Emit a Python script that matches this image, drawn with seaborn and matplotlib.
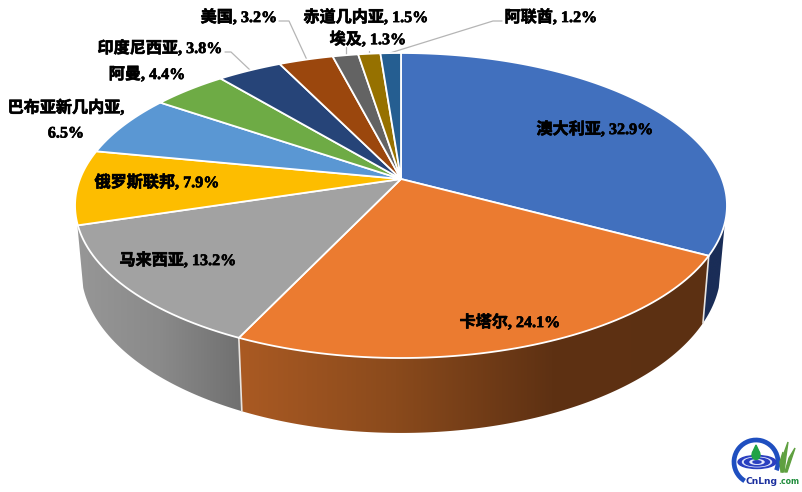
import numpy as np
import matplotlib
matplotlib.use("Agg")
import matplotlib.pyplot as plt
import matplotlib.patheffects as pe
import matplotlib.transforms as mtransforms
from matplotlib.colors import LinearSegmentedColormap
from matplotlib.patches import Polygon, Arc, Ellipse
from matplotlib.path import Path
import seaborn as sns

countries = ["澳大利亚", "卡塔尔", "马来西亚", "俄罗斯联邦", "巴布亚新几内亚", "阿曼",
             "印度尼西亚", "美国", "赤道几内亚", "埃及", "阿联酋"]
shares = [32.9, 24.1, 13.2, 7.9, 6.5, 4.4, 3.8, 3.2, 1.5, 1.3, 1.2]
slice_colors = ["#4170BE", "#EB7B30", "#A2A2A2", "#FDBD00", "#5A97D3", "#6EAB45",
                "#264478", "#9B470D", "#636363", "#967100", "#255E91"]
label_centers = [(595, 130), (510, 323), (178, 261), (157, 183), (66, 121), (147, 75),
                 (160, 49), (239, 18), (366, 18), (368, 40), (551, 18)]
label_breaks = [False, False, False, False, True, False, False, False, False, False, False]
leaders = [([225, 231, 250], [52, 52, 70]),
           ([279, 289, 307], [21, 21, 60]),
           ([346, 346], [47, 55]),
           ([369, 369], [51, 54]),
           ([502, 493, 390], [21, 21, 53])]

sns.set_theme(style="white")
plt.rcParams["font.family"] = ["Liberation Serif", "Noto Sans CJK SC", "DejaVu Sans"]
palette = sns.color_palette(slice_colors)


class Tilt(mtransforms.Transform):
    """Perspective view of the unit-circle pie."""
    input_dims = output_dims = 2
    has_inverse = False
    is_separable = False

    def __init__(self, k, a, b, c):
        super().__init__()
        self.k, self.a, self.b, self.c = k, a, b, c

    def transform_non_affine(self, values):
        values = np.asarray(values, dtype=float)
        u, v = values[:, 0], values[:, 1]
        d = 1 + self.c * v
        return np.column_stack((401 + self.k * u / d, (self.a + self.b * v) / d))

    def transform_path_non_affine(self, path):
        scaled = path.transformed(mtransforms.Affine2D().scale(2000))
        poly = scaled.to_polygons(closed_only=True)[0] / 2000
        return Path(self.transform_non_affine(poly), closed=True)


top = Tilt(321, 179, -116.79, 0.1738)
bottom = Tilt(315, 240.5, -117.2, 0.1738)


def rim(tilt, start, end, n=160):
    theta = np.radians(np.linspace(start, end, n))
    return tilt.transform_non_affine(np.column_stack((np.sin(theta), np.cos(theta))))


fig = plt.figure(figsize=(8.02, 4.92), dpi=100, facecolor="white")
ax = fig.add_axes([0, 0, 1, 1])

wedges, _ = ax.pie(shares, colors=palette, startangle=90, counterclock=False, frame=False,
                   wedgeprops={"edgecolor": "white", "linewidth": 1.3})
for wedge in wedges:
    wedge.set_transform(top + ax.transData)
    wedge.set_zorder(3)
    wedge.set_clip_on(False)

edges = 3.6 * np.cumsum(shares)
silhouette = (106.4, 253.6)


def side(start, end, stops, x0, x1):
    poly = np.vstack((rim(top, start, end), rim(bottom, end, start)))
    patch = Polygon(poly, closed=True, facecolor="none", edgecolor="none", zorder=1)
    ax.add_patch(patch)
    cmap = LinearSegmentedColormap.from_list("side", stops)
    image = ax.imshow(np.linspace(0, 1, 256)[None, :], extent=(x0, x1, 440, 200),
                      cmap=cmap, aspect="auto", zorder=1, interpolation="bilinear")
    image.set_clip_path(patch)


side(silhouette[0], edges[0], ["#1A2D57", "#1A2D57"], 690, 735)
side(edges[0], edges[1], ["#AA5A23", "#8A4A1C", "#5E3113", "#5C3012"], 238, 710)
side(edges[1], silhouette[1], ["#979797", "#8A8A8A", "#6F6F6F"], 75, 245)

for edge in edges[:2]:
    pair = np.vstack((rim(top, edge, edge, 1), rim(bottom, edge, edge, 1)))
    ax.plot(pair[:, 0], pair[:, 1], color="#E8E4E0", lw=1.2, zorder=2)

for xs, ys in leaders:
    ax.plot(xs, ys, color="#B5B5B5", lw=0.9, zorder=2)

heavy = [pe.withStroke(linewidth=0.45, foreground="black")]
for name, share, (x, y), wrap in zip(countries, shares, label_centers, label_breaks):
    sep = ",\n" if wrap else ", "
    ax.text(x, y, f"{name}{sep}{share}%", ha="center", va="center", fontsize=11.6,
            fontweight="bold", color="black", zorder=5, linespacing=1.75, path_effects=heavy)

# CnLng logo
ax.add_patch(Arc((756, 462), 44, 44, theta1=121, theta2=22, color="#1F4FC0", lw=3.4, zorder=4))
for w, h, col in [(38, 13, "#2A3FC0"), (29, 9.5, "#DDE4FA"), (25, 8, "#2A3FC0"), (14, 4.5, "#E4E8FC"), (8, 2.5, "#2A3FC0")]:
    ax.add_patch(Ellipse((757, 462), w, h, color=col, zorder=4))
ax.add_patch(Ellipse((756, 455), 8, 9, color="#1FA345", zorder=4))
ax.add_patch(Polygon([(756, 445), (752.3, 453), (759.7, 453)], closed=True, color="#1FA345", zorder=4))
for pts in ([(782, 472), (783, 456), (788, 442), (786, 456), (784, 472)],
            [(785, 472), (789, 458), (795, 448), (791, 460), (787, 472)],
            [(781, 472), (780, 462), (783, 452), (782, 462), (782.5, 472)]):
    ax.add_patch(Polygon(pts, closed=True, color="#5FA040", zorder=4))
ax.text(746, 481, "CnLng", fontsize=6.6, fontweight="bold", family="DejaVu Sans", color="#1B2F9E",
        ha="left", va="center", zorder=5)
ax.text(778, 481.5, ".com", fontsize=5.6, fontweight="bold", family="DejaVu Sans", color="#1E8C3A",
        ha="left", va="center", zorder=5)

ax.set_aspect("auto")
ax.set_xlim(0, 802)
ax.set_ylim(492, 0)
ax.axis("off")
fig.savefig("out.png", dpi=100, facecolor="white")
